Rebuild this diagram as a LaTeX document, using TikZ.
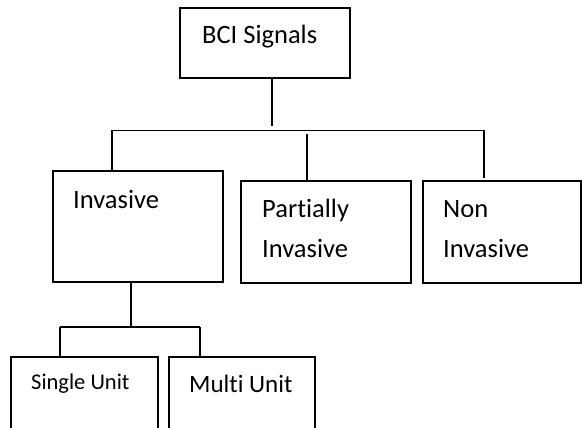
\documentclass[tikz,border=0pt]{standalone}
\usepackage{fontspec}
\setmainfont[Ligatures={NoCommon}]{Carlito}
\begin{document}
\begin{tikzpicture}[x=1pt,y=-1pt,
  box/.style={draw=black,line width=1.4pt,rectangle,inner sep=0pt},
  lbl/.style={anchor=base west,inner sep=0pt,font=\fontsize{26.5}{30}\selectfont},
  conn/.style={draw=black,line width=1.4pt}]
\useasboundingbox (0,0) rectangle (582,428);
\fill[white] (0,0) rectangle (582,428);
% boxes
\node[box,minimum width=170pt,minimum height=70pt] (bci) at (265,43) {};
\node[box,minimum width=170pt,minimum height=111pt] (inv) at (138,226.5) {};
\node[box,minimum width=170pt,minimum height=102pt] (par) at (326,232) {};
\node[box,minimum width=158pt,minimum height=102pt] (non) at (502,232) {};
\node[box,minimum width=147pt,minimum height=90pt] (sgl) at (84.5,402) {};
\node[box,minimum width=146pt,minimum height=90pt] (mul) at (242,402) {};
% texts
\node[lbl] (tbci) at (202,44) {BCI Signals};
\node[lbl] (tinv) at (73,208) {Invasive};
\node[lbl] (tpar1) at (262,217) {Partially};
\node[lbl] (tpar2) at (262,257) {Invasive};
\node[lbl] (tnon1) at (443,217) {Non};
\node[lbl] (tnon2) at (443,257) {Invasive};
\node[lbl,font=\fontsize{22.5}{27}\selectfont] (tsgl) at (31,389) {Single Unit};
\node[lbl,font=\fontsize{25}{30}\selectfont] (tmul) at (189,392) {Multi Unit};
% connector junctions
\coordinate (j0) at (272,126);
\coordinate (hL) at (112,130.5);
\coordinate (hR) at (484,130.5);
\coordinate (pTop) at (307,134);
\coordinate (nBot) at (484,178);
\coordinate (k0) at (131,327);
\coordinate (kL) at (60,327);
\coordinate (kR) at (200,327);
% connectors
\draw[conn] (bci.south -| j0) -- (j0);
\draw[conn] (hL) -- (hR);
\draw[conn] (hL) -- (inv.north -| hL);
\draw[conn] (pTop) -- (par.north -| pTop);
\draw[conn] (hR) -- (nBot);
\draw[conn] (inv.south -| k0) -- (k0);
\draw[conn] (kL) -- (kR);
\draw[conn] (kL) -- (sgl.north -| kL);
\draw[conn] (kR) -- (mul.north -| kR);
\end{tikzpicture}
\end{document}
